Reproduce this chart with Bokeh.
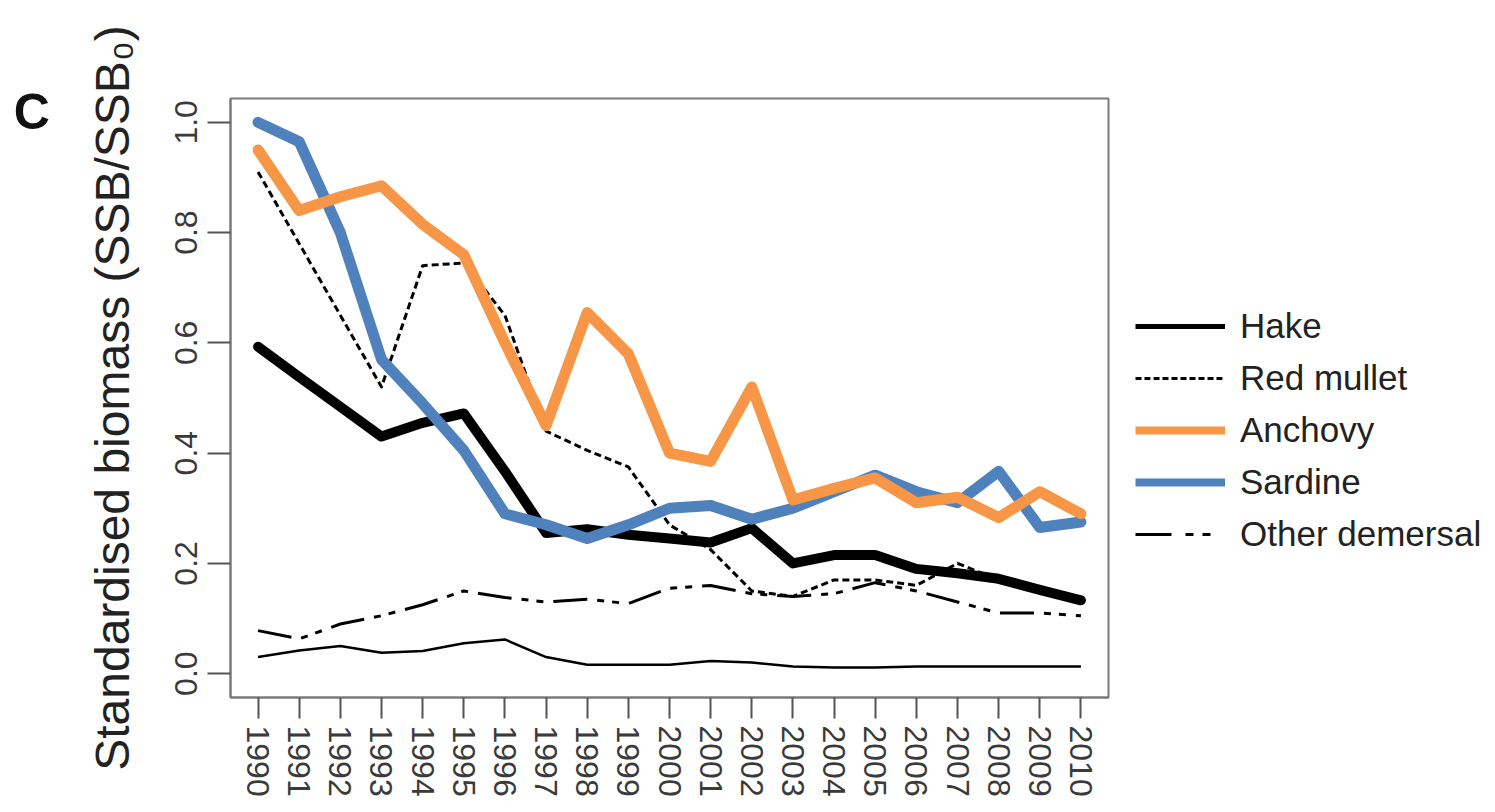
from bokeh.plotting import figure
from bokeh.layouts import row
from bokeh.models import Legend, LegendItem, Range1d, FixedTicker, Label, NumeralTickFormatter
from bokeh.embed import file_html
from bokeh.resources import INLINE

# Standardised spawning stock biomass (SSB/SSB0) by year
years = list(range(1990, 2011))
hake = [0.593, 0.538, 0.484, 0.43, 0.455, 0.472, 0.367, 0.255, 0.262, 0.252, 0.245,
        0.238, 0.264, 0.2, 0.215, 0.215, 0.19, 0.182, 0.172, 0.152, 0.133]
red_mullet = [0.91, 0.78, 0.65, 0.52, 0.74, 0.745, 0.65, 0.44, 0.405, 0.375, 0.27,
              0.225, 0.15, 0.14, 0.17, 0.17, 0.16, 0.2, 0.17, 0.15, 0.13]
anchovy = [0.95, 0.84, 0.865, 0.885, 0.815, 0.76, 0.6, 0.45, 0.655, 0.58, 0.4,
           0.385, 0.52, 0.315, 0.336, 0.355, 0.31, 0.32, 0.283, 0.33, 0.29]
sardine = [1.0, 0.965, 0.8, 0.57, 0.49, 0.405, 0.29, 0.27, 0.245, 0.27, 0.3,
           0.305, 0.28, 0.3, 0.33, 0.36, 0.33, 0.31, 0.367, 0.265, 0.275]
other_demersal = [0.078, 0.063, 0.09, 0.105, 0.125, 0.15, 0.138, 0.13, 0.135, 0.127, 0.155,
                  0.16, 0.145, 0.14, 0.145, 0.165, 0.15, 0.13, 0.11, 0.11, 0.105]
minor_stock = [0.03, 0.042, 0.05, 0.038, 0.041, 0.055, 0.062, 0.03, 0.016, 0.016, 0.016,
               0.023, 0.02, 0.013, 0.011, 0.011, 0.013, 0.013, 0.013, 0.013, 0.013]

y_ticks = [0.0, 0.2, 0.4, 0.6, 0.8, 1.0]
legend_labels = ["Hake", "Red mullet", "Anchovy", "Sardine", "Other demersal"]

ORANGE = "#F79646"
BLUE = "#4F81BD"
FONT = "Liberation Sans"
NAN = float("nan")

# ---------------------------------------------------------------- main panel
p = figure(width=1110, height=812, output_backend="svg", toolbar_location=None,
           x_range=Range1d(1989.33, 2010.67), y_range=Range1d(-0.0433, 1.0433),
           min_border_left=230, min_border_right=2, min_border_top=98,
           min_border_bottom=115)

p.xgrid.visible = False
p.ygrid.visible = False
p.outline_line_color = "#7a7a7a"
p.outline_line_width = 2
p.background_fill_color = "white"
p.border_fill_color = "white"

p.xaxis.ticker = FixedTicker(ticks=years)
p.yaxis.ticker = FixedTicker(ticks=y_ticks)
p.yaxis.formatter = NumeralTickFormatter(format="0.0")
p.xaxis.major_label_orientation = "vertical"
p.yaxis.major_label_orientation = "vertical"
for ax in (p.xaxis, p.yaxis):
    ax.axis_line_color = "#7a7a7a"
    ax.axis_line_width = 2
    ax.major_tick_line_color = "#555555"
    ax.major_tick_line_width = 2
    ax.major_tick_in = 0
    ax.minor_tick_line_color = None
    ax.major_label_text_font = FONT
    ax.major_label_text_font_size = "32px"
    ax.major_label_text_color = "#3a3a3a"
p.xaxis.major_tick_out = 21
p.yaxis.major_tick_out = 23
p.xaxis.major_label_standoff = 7
p.yaxis.major_label_standoff = 10

p.yaxis.axis_label = "Standardised biomass (SSB/SSB\u2080)"
p.yaxis.axis_label_text_font = FONT
p.yaxis.axis_label_text_font_size = "48px"
p.yaxis.axis_label_text_font_style = "normal"
p.yaxis.axis_label_text_color = "#222222"
p.yaxis.axis_label_standoff = 34

# series (black lines underneath the coloured ones)
p.line(years, minor_stock, line_color="black", line_width=2.5, line_join="round")
p.line(years, other_demersal, line_color="black", line_width=3,
       line_dash="34 10 7 8 7 10", line_join="round")
p.line(years, red_mullet, line_color="black", line_width=3,
       line_dash="7 4", line_join="round")
p.line(years, hake, line_color="black", line_width=10,
       line_join="round", line_cap="round")
p.line(years, sardine, line_color=BLUE, line_width=11,
       line_join="round", line_cap="round")
p.line(years, anchovy, line_color=ORANGE, line_width=11,
       line_join="round", line_cap="round")

# panel letter, sitting in the left margin
p.add_layout(Label(x=1984.06, y=1.0196, text="C", text_font=FONT,
                   text_font_size="50px", text_font_style="bold",
                   text_color="#111111", text_align="left", text_baseline="middle"),
             "left")

# ---------------------------------------------------------------- legend panel
lg = figure(width=385, height=812, output_backend="svg", toolbar_location=None,
            x_axis_location=None, y_axis_location=None,
            x_range=Range1d(0, 1), y_range=Range1d(0, 1),
            min_border_left=0, min_border_right=0, min_border_top=0,
            min_border_bottom=0)
lg.xgrid.visible = False
lg.ygrid.visible = False
lg.outline_line_color = None
lg.background_fill_color = "white"
lg.border_fill_color = "white"

keys = [
    lg.line([NAN], [NAN], line_color="black", line_width=5),
    lg.line([NAN], [NAN], line_color="black", line_width=3, line_dash="6 3"),
    lg.line([NAN], [NAN], line_color=ORANGE, line_width=8),
    lg.line([NAN], [NAN], line_color=BLUE, line_width=8),
    lg.line([NAN], [NAN], line_color="black", line_width=3, line_dash="36 14 8 9 8 15"),
]

legend = Legend(items=[LegendItem(label=lab, renderers=[r])
                       for lab, r in zip(legend_labels, keys)],
                location=(25, 143))
legend.border_line_color = None
legend.background_fill_alpha = 0
legend.padding = 0
legend.margin = 0
legend.spacing = 12
legend.glyph_width = 90
legend.glyph_height = 30
legend.label_height = 30
legend.label_standoff = 15
legend.label_text_font = FONT
legend.label_text_font_size = "35px"
legend.label_text_color = "#222222"
lg.add_layout(legend)

layout = row(p, lg, spacing=0)

open("out.html", "w").write(file_html(layout, INLINE))
